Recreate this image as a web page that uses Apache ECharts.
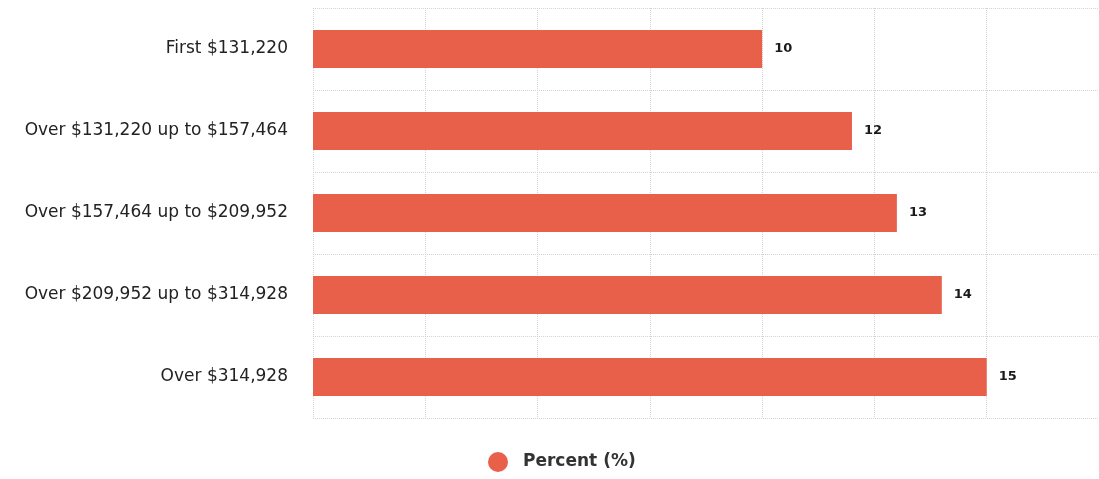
<!DOCTYPE html>
<html>
<head>
<meta charset="utf-8">
<script src="https://cdn.jsdelivr.net/npm/echarts@6/dist/echarts.min.js"></script>
<style>
html,body{margin:0;padding:0;background:#fff;}
#chart{width:1099px;height:479px;}
</style>
</head>
<body>
<div id="chart"></div>
<script>
const categories = [
  "First $131,220",
  "Over $131,220 up to $157,464",
  "Over $157,464 up to $209,952",
  "Over $209,952 up to $314,928",
  "Over $314,928"
];
const percentValues = [10, 12, 13, 14, 15];
const seriesName = "Percent (%)";

const chart = echarts.init(document.getElementById('chart'), null, {renderer: 'canvas'});
chart.setOption({
  animation: false,
  backgroundColor: '#ffffff',
  grid: { left: 313, right: 0, top: 8, bottom: 61, containLabel: false },
  legend: {
    data: [seriesName],
    left: 483,
    top: 447,
    icon: 'circle',
    itemWidth: 20,
    itemHeight: 20,
    textStyle: { fontFamily: 'DejaVu Sans', fontSize: 17, fontWeight: 'bold', color: '#333', padding: [0, 0, 0, 10] }
  },
  xAxis: {
    type: 'value',
    min: 0,
    max: 17.5,
    interval: 2.5,
    position: 'top',
    axisLabel: { show: false },
    axisLine: { show: false },
    axisTick: { show: false },
    splitLine: { show: true, lineStyle: { color: '#d4d4d4', type: 'dotted', width: 1 } }
  },
  yAxis: {
    type: 'category',
    data: categories,
    inverse: true,
    axisLine: { show: false },
    axisTick: { show: false },
    axisLabel: { fontFamily: 'DejaVu Sans', fontSize: 17, color: '#222', margin: 25 },
    splitLine: { show: true, lineStyle: { color: '#d4d4d4', type: 'dotted', width: 1 } }
  },
  series: [{
    name: seriesName,
    type: 'bar',
    data: percentValues,
    barWidth: 38,
    itemStyle: { color: '#e8604a' },
    label: {
      show: true,
      position: 'right',
      distance: 12,
      fontFamily: 'DejaVu Sans',
      fontSize: 13,
      fontWeight: 'bold',
      color: '#1a1a1a'
    }
  }]
});
</script>
</body>
</html>
